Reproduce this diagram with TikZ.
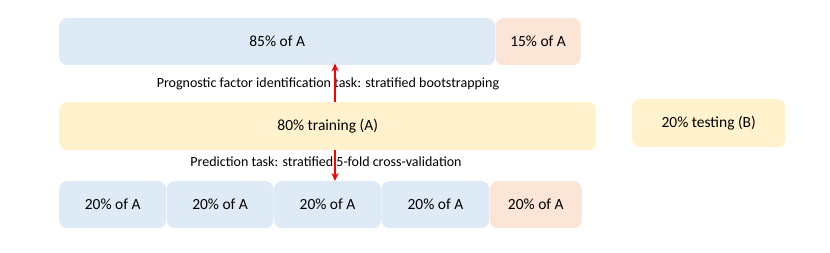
\documentclass[tikz,border=0pt]{standalone}
\usepackage{fontspec}
\setmainfont{Carlito}
\usetikzlibrary{arrows.meta, positioning}
\definecolor{boxblue}{RGB}{222, 235, 247}
\definecolor{boxpink}{RGB}{251, 229, 214}
\definecolor{boxyellow}{RGB}{255, 242, 204}
\definecolor{arrowred}{RGB}{255, 0, 0}

\begin{document}
\begin{tikzpicture}[
    x=1pt, y=-1pt,
    part/.style={rectangle, fill=boxblue, rounded corners=8pt, align=center, minimum height=47pt, inner sep=0pt, font=\fontsize{15.5}{18}\selectfont},
    held/.style={part, fill=boxpink},
    train/.style={part, fill=boxyellow, minimum height=48pt},
    task/.style={inner sep=0pt, font=\fontsize{14}{17}\selectfont},
    arrow/.style={-{Stealth[length=8pt, width=7pt]}, line width=1.6pt, color=arrowred}
]
    \useasboundingbox (0,0) rectangle (830,252);

    % bootstrap split of A
    \node[part, minimum width=436pt, anchor=north west] (boot) at (59,18) {85\% of A};
    \node[held, minimum width=85pt, right=0pt of boot] (oob) {15\% of A};

    % train / test split
    \node[train, minimum width=537pt, anchor=north west] (train) at (59,102) {80\% training (A)};
    \node[train, minimum width=153pt, anchor=north west] (test) at (632,99) {20\% testing (B)};

    % 5-fold split of A
    \node[part, minimum width=107pt, anchor=north west] (fold1) at (59,181) {20\% of A};
    \node[part, minimum width=107pt, right=0pt of fold1] (fold2) {20\% of A};
    \node[part, minimum width=107pt, right=0pt of fold2] (fold3) {20\% of A};
    \node[part, minimum width=108pt, right=0pt of fold3] (fold4) {20\% of A};
    \node[held, minimum width=92pt, right=0pt of fold4] (fold5) {20\% of A};

    \node[task] (idtask) at (328,84) {Prognostic factor identification task: stratified bootstrapping};
    \node[task] (predtask) at (326,162) {Prediction task: stratified 5-fold cross-validation};

    \coordinate (split) at (335,0);
    \draw[arrow] (train.north -| split) -- ([yshift=2pt]boot.south -| split);
    \draw[arrow] (train.south -| split) -- (fold3.north -| split);
\end{tikzpicture}
\end{document}
